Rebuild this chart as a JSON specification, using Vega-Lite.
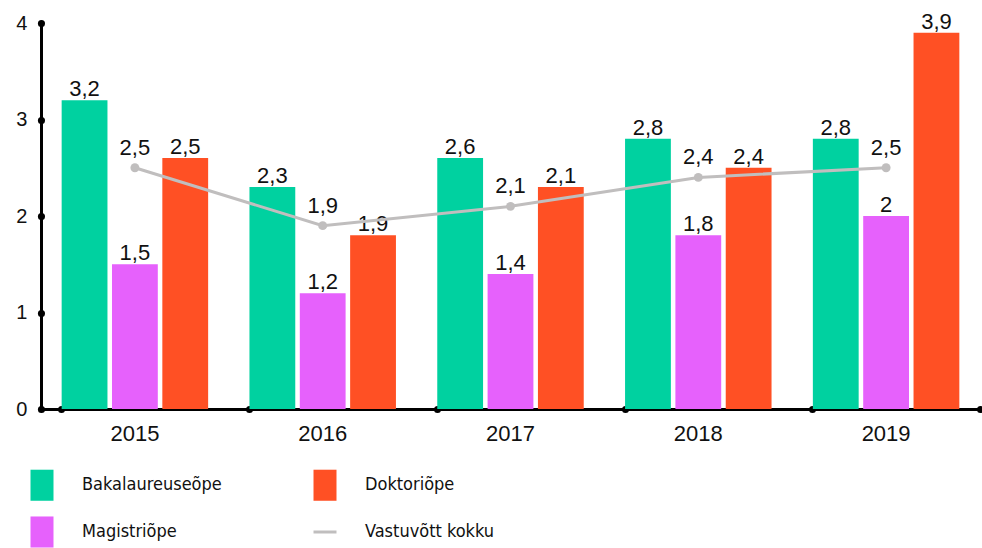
{
  "$schema": "https://vega.github.io/schema/vega-lite/v6.json",
  "width": 939,
  "height": 386,
  "autosize": "none",
  "padding": {"left": 41, "top": 23, "right": 2, "bottom": 139},
  "background": "white",
  "config": {
    "view": {"stroke": null},
    "font": "Liberation Sans",
    "axis": {"grid": false, "title": null}
  },
  "datasets": {
    "bars": [
      {"year": "2015", "type": "Bakalaureuseõpe", "value": 3.2, "label": "3,2"},
      {"year": "2015", "type": "Magistriõpe", "value": 1.5, "label": "1,5"},
      {"year": "2015", "type": "Doktoriõpe", "value": 2.6, "label": "2,5"},
      {"year": "2016", "type": "Bakalaureuseõpe", "value": 2.3, "label": "2,3"},
      {"year": "2016", "type": "Magistriõpe", "value": 1.2, "label": "1,2"},
      {"year": "2016", "type": "Doktoriõpe", "value": 1.8, "label": "1,9"},
      {"year": "2017", "type": "Bakalaureuseõpe", "value": 2.6, "label": "2,6"},
      {"year": "2017", "type": "Magistriõpe", "value": 1.4, "label": "1,4"},
      {"year": "2017", "type": "Doktoriõpe", "value": 2.3, "label": "2,1"},
      {"year": "2018", "type": "Bakalaureuseõpe", "value": 2.8, "label": "2,8"},
      {"year": "2018", "type": "Magistriõpe", "value": 1.8, "label": "1,8"},
      {"year": "2018", "type": "Doktoriõpe", "value": 2.5, "label": "2,4"},
      {"year": "2019", "type": "Bakalaureuseõpe", "value": 2.8, "label": "2,8"},
      {"year": "2019", "type": "Magistriõpe", "value": 2.0, "label": "2"},
      {"year": "2019", "type": "Doktoriõpe", "value": 3.9, "label": "3,9"}
    ],
    "total": [
      {"year": "2015", "value": 2.5, "label": "2,5"},
      {"year": "2016", "value": 1.9, "label": "1,9"},
      {"year": "2017", "value": 2.1, "label": "2,1"},
      {"year": "2018", "value": 2.4, "label": "2,4"},
      {"year": "2019", "value": 2.5, "label": "2,5"}
    ]
  },
  "layer": [
    {
      "data": {"name": "bars"},
      "mark": {"type": "bar"},
      "encoding": {
        "x": {
          "field": "year", "type": "nominal",
          "scale": {"paddingInner": 0.22, "paddingOuter": 0.11},
          "axis": {
            "labelAngle": 0,
            "bandPosition": 0,
            "domainColor": "#000000",
            "domainWidth": 3,
            "tickColor": "#000000",
            "tickWidth": 7,
            "tickSize": 0.1,
            "tickCap": "round",
            "labelFontSize": 22,
            "labelColor": "#111111",
            "labelPadding": 14
          }
        },
        "xOffset": {
          "field": "type", "type": "nominal",
          "scale": {"domain": ["Bakalaureuseõpe", "Magistriõpe", "Doktoriõpe"], "paddingInner": 0.09, "paddingOuter": 0}
        },
        "y": {
          "field": "value", "type": "quantitative",
          "scale": {"domain": [0, 4], "nice": false},
          "axis": {
            "values": [0, 1, 2, 3, 4],
            "domainColor": "#000000",
            "domainWidth": 3,
            "tickColor": "#000000",
            "tickWidth": 7,
            "tickSize": 0.1,
            "tickCap": "round",
            "labelFontSize": 20,
            "labelColor": "#111111",
            "labelPadding": 14
          }
        },
        "color": {
          "field": "type", "type": "nominal",
          "scale": {
            "domain": ["Bakalaureuseõpe", "Magistriõpe", "Doktoriõpe", "Vastuvõtt kokku"],
            "range": ["#00D1A0", "#E661FC", "#FF5024", "#C0BEBE"]
          },
          "legend": {
            "title": null,
            "orient": "none",
            "legendX": -8,
            "legendY": 453,
            "columns": 2,
            "columnPadding": 85,
            "rowPadding": 15,
            "labelFont": "DejaVu Sans Condensed, Roboto, sans-serif",
            "labelFontSize": 18,
            "labelColor": "#111111",
            "labelOffset": 31,
            "symbolSize": 529,
            "encode": {
              "symbols": {
                "update": {
                  "shape": {"signal": "datum.value === 'Vastuvõtt kokku' ? 'M-1,0H1' : 'M-1,-1.35H1V1.35H-1Z'"},
                  "fill": {"signal": "datum.value === 'Vastuvõtt kokku' ? 'transparent' : scale('color', datum.value)"},
                  "stroke": {"signal": "datum.value === 'Vastuvõtt kokku' ? '#C0BEBE' : 'transparent'"},
                  "strokeWidth": {"signal": "datum.value === 'Vastuvõtt kokku' ? 3 : 0"},
                  "opacity": {"value": 1}
                }
              }
            }
          }
        }
      }
    },
    {
      "data": {"name": "bars"},
      "mark": {"type": "text", "baseline": "alphabetic", "dy": -4, "fontSize": 22, "color": "#111111"},
      "encoding": {
        "x": {"field": "year", "type": "nominal"},
        "xOffset": {"field": "type", "type": "nominal"},
        "y": {"field": "value", "type": "quantitative", "axis": null},
        "text": {"field": "label"}
      }
    },
    {
      "data": {"name": "total"},
      "mark": {"type": "line", "strokeWidth": 3, "point": {"filled": true, "size": 80}},
      "encoding": {
        "x": {"field": "year", "type": "nominal"},
        "y": {
          "field": "value", "type": "quantitative",
          "axis": {
            "orient": "right",
            "values": [0],
            "labels": false,
            "domain": false,
            "tickColor": "#000000",
            "tickWidth": 7,
            "tickSize": 0.1,
            "tickCap": "round"
          }
        },
        "color": {"datum": "Vastuvõtt kokku", "legend": null}
      }
    },
    {
      "data": {"name": "total"},
      "mark": {"type": "text", "baseline": "alphabetic", "dy": -13, "fontSize": 22, "color": "#111111"},
      "encoding": {
        "x": {"field": "year", "type": "nominal"},
        "y": {"field": "value", "type": "quantitative", "axis": null},
        "text": {"field": "label"}
      }
    }
  ],
  "resolve": {"axis": {"y": "independent"}}
}
